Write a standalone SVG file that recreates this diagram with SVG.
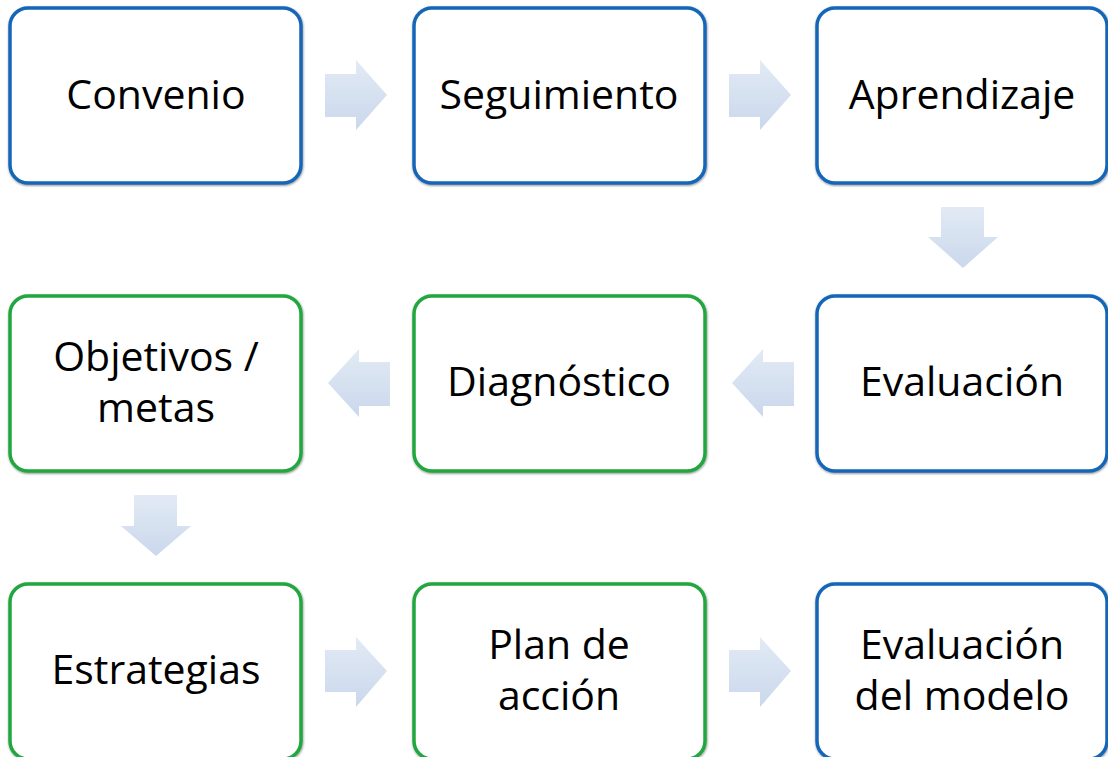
<svg xmlns="http://www.w3.org/2000/svg" width="1108" height="757" viewBox="0 0 1108 757">
<defs>
<linearGradient id="ag" x1="0" y1="0" x2="0" y2="1">
<stop offset="0" stop-color="#E2EAF5"/>
<stop offset="1" stop-color="#CAD8EC"/>
</linearGradient>
<filter id="sh" x="-5%" y="-5%" width="110%" height="110%">
<feDropShadow dx="0.5" dy="1" stdDeviation="0.8" flood-color="#000" flood-opacity="0.45"/>
</filter>
</defs>
<style>
.box{fill:#fff;stroke-width:3.5;filter:url(#sh)}
.blue{stroke:#1766B8}
.green{stroke:#22A63F}
.lbl{font-family:"Open Sans","Liberation Sans",sans-serif;font-size:41px;fill:#000;text-anchor:middle}
.arr{fill:url(#ag)}
</style>
<rect width="1108" height="757" fill="#fff"/>
<g id="connectors">
<polygon class="arr" points="325,74 356,74 356,60 387,95 356,130 356,117 325,117"/>
<polygon class="arr" points="729,74 760,74 760,60 791,95 760,130 760,117 729,117"/>
<polygon class="arr" points="941,207 984,207 984,237 998,237 963,268 928,237 941,237"/>
<polygon class="arr" points="390,362 359,362 359,349 328,383 359,417 359,406 390,406"/>
<polygon class="arr" points="794,362 763,362 763,349 732,383 763,417 763,406 794,406"/>
<polygon class="arr" points="134,495 177,495 177,526 191,526 156,556 121,526 134,526"/>
<polygon class="arr" points="325,650 356,650 356,637 387,671 356,707 356,692 325,692"/>
<polygon class="arr" points="729,650 760,650 760,637 791,671 760,707 760,692 729,692"/>
</g>
<g id="n1"><rect class="box blue" x="10" y="8" width="291" height="175" rx="18"/><text class="lbl" x="156" y="109">Convenio</text></g>
<g id="n2"><rect class="box blue" x="414" y="8" width="291" height="175" rx="18"/><text class="lbl" x="559" y="109">Seguimiento</text></g>
<g id="n3"><rect class="box blue" x="817" y="8" width="290" height="175" rx="18"/><text class="lbl" x="962" y="109">Aprendizaje</text></g>
<g id="n4"><rect class="box blue" x="817" y="296" width="290" height="175" rx="18"/><text class="lbl" x="962" y="396">Evaluación</text></g>
<g id="n5"><rect class="box green" x="414" y="296" width="291" height="175" rx="18"/><text class="lbl" x="559" y="396">Diagnóstico</text></g>
<g id="n6"><rect class="box green" x="10" y="296" width="291" height="175" rx="18"/><text class="lbl" x="156" y="371">Objetivos /</text><text class="lbl" x="156" y="422">metas</text></g>
<g id="n7"><rect class="box green" x="10" y="584" width="291" height="175" rx="18"/><text class="lbl" x="156" y="684">Estrategias</text></g>
<g id="n8"><rect class="box green" x="414" y="584" width="291" height="175" rx="18"/><text class="lbl" x="559" y="659">Plan de</text><text class="lbl" x="559" y="710">acción</text></g>
<g id="n9"><rect class="box blue" x="817" y="584" width="290" height="175" rx="18"/><text class="lbl" x="962" y="659">Evaluación</text><text class="lbl" x="962" y="710">del modelo</text></g>
</svg>
